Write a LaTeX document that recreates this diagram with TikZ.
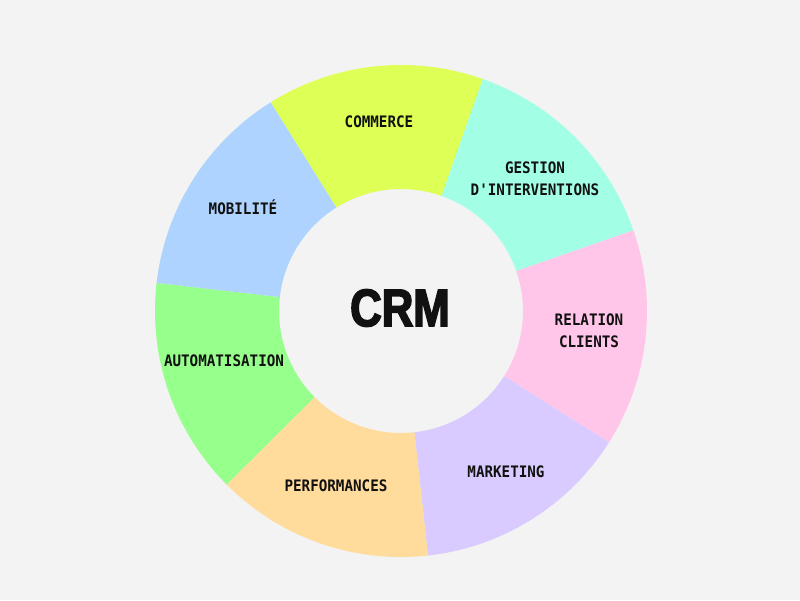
\documentclass[tikz,border=0pt]{standalone}
\usepackage{fontspec}
\newfontfamily\labelfont[FakeStretch=0.9]{DejaVu Sans Mono}
\newfontfamily\crmfont[FakeStretch=0.83,FakeBold=3]{Liberation Sans}

\definecolor{bgGrey}{HTML}{F3F3F3}
\definecolor{inkBlack}{HTML}{111111}
\definecolor{segCommerce}{HTML}{DEFF55}
\definecolor{segGestion}{HTML}{A2FFE6}
\definecolor{segRelation}{HTML}{FFC6EA}
\definecolor{segMarketing}{HTML}{D9CBFF}
\definecolor{segPerf}{HTML}{FFDB9C}
\definecolor{segAuto}{HTML}{97FF8B}
\definecolor{segMobil}{HTML}{AED3FF}

\tikzset{
  seglabel/.style={font=\labelfont\bfseries\fontsize{9}{12.5}\selectfont,
    text=inkBlack, align=center, inner sep=0pt},
  crmlabel/.style={font=\crmfont\bfseries\fontsize{30}{30}\selectfont,
    text=inkBlack, inner sep=0pt}
}

\begin{document}
\begin{tikzpicture}[x=0.02cm,y=0.02cm]
% page, 800 x 600 px with the ring centre at the origin
\fill[bgGrey] (-401,-289) rectangle (399,311);
\coordinate (O) at (0,0);
\pgfmathsetmacro{\Rout}{246}
\pgfmathsetmacro{\Rin}{122}
\pgfmathsetmacro{\dA}{360/7}

% ring segments, clockwise from the top
\foreach \k/\col in {0/segCommerce,1/segGestion,2/segRelation,3/segMarketing,
                     4/segPerf,5/segAuto,6/segMobil}{
  \pgfmathsetmacro{\aS}{122-\k*\dA}
  \pgfmathsetmacro{\aE}{\aS-\dA}
  \fill[\col] (\aS:\Rout) arc (\aS:\aE:\Rout) -- (\aE:\Rin)
    arc (\aE:\aS:\Rin) -- cycle;
}

% centre title
\node[crmlabel] (crm) at (-1,3) {CRM};

% segment labels
\node[seglabel] (commerce) at (-22,189) {COMMERCE};
\node[seglabel] (gestion) at (134,132) {GESTION\\D'INTERVENTIONS};
\node[seglabel] (relation) at (188,-20) {RELATION\\CLIENTS};
\node[seglabel] (marketing) at (105,-161) {MARKETING};
\node[seglabel] (perf) at (-65,-175) {PERFORMANCES};
\node[seglabel] (auto) at (-177,-50) {AUTOMATISATION};
\node[seglabel] (mobil) at (-158,104) {MOBILITÉ};
\end{tikzpicture}
\end{document}
